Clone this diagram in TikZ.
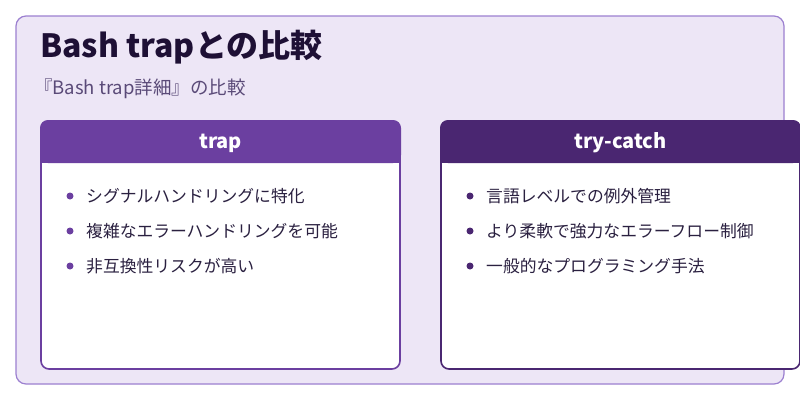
\documentclass[tikz,border=0pt]{standalone}
\usepackage{fontspec}
\setmainfont{Noto Sans CJK JP}
\definecolor{bgl}{HTML}{EDE6F6}
\definecolor{frame}{HTML}{9C80D0}
\definecolor{titc}{HTML}{1E1035}
\definecolor{subc}{HTML}{5A4A78}
\definecolor{hdA}{HTML}{6B3FA0}
\definecolor{hdB}{HTML}{4A2671}
\definecolor{txt}{HTML}{2A2040}
\tikzset{
  card/.style={draw=#1, line width=1.6pt, fill=white, rounded corners=8pt},
  bul/.style={circle, fill=#1, inner sep=0pt, minimum size=7pt},
  item/.style={anchor=west, font=\fontsize{16.8}{19}\selectfont, text=txt, inner sep=0pt},
  hdtext/.style={text=white, font=\fontsize{20}{23}\selectfont\bfseries}
}
\begin{document}
\begin{tikzpicture}[x=1pt,y=-1pt]
\useasboundingbox (0,0) rectangle (800,400);
\fill[white] (0,0) rectangle (800,400);
\draw[frame, fill=bgl, line width=1.2pt, rounded corners=10pt] (16,16) rectangle (784,384);
\node[anchor=west, inner sep=0pt, text=titc, font=\fontsize{32}{36}\selectfont\bfseries] (title) at (40,47) {Bash trapとの比較};
\node[anchor=west, inner sep=0pt, text=subc, font=\fontsize{18.5}{21}\selectfont] (sub) at (34,89) {『Bash trap詳細』の比較};
% left card
\draw[card=hdA] (41,121) rectangle (400,369);
\fill[hdA, rounded corners=8pt] (40,120) -- (40,163) -- (401,163) -- (401,120) -- cycle;
\fill[hdA] (40,150) rectangle (401,163);
\node[hdtext] (hA) at (220.5,143) {trap};
\foreach \t [count=\i] in {シグナルハンドリングに特化, 複雑なエラーハンドリングを可能, 非互換性リスクが高い}{
  \node[bul=hdA] (ba\i) at (70,161+35*\i) {};
  \node[item] (ta\i) at (86,161+35*\i) {\t};
}
% right card
\draw[card=hdB] (441,121) rectangle (800,369);
\fill[hdB, rounded corners=8pt] (440,120) -- (440,163) -- (801,163) -- (801,120) -- cycle;
\fill[hdB] (440,150) rectangle (801,163);
\node[hdtext] (hB) at (620.5,143) {try-catch};
\foreach \t [count=\i] in {言語レベルでの例外管理, より柔軟で強力なエラーフロー制御, 一般的なプログラミング手法}{
  \node[bul=hdB] (bb\i) at (470,161+35*\i) {};
  \node[item] (tb\i) at (486,161+35*\i) {\t};
}
\end{tikzpicture}
\end{document}
